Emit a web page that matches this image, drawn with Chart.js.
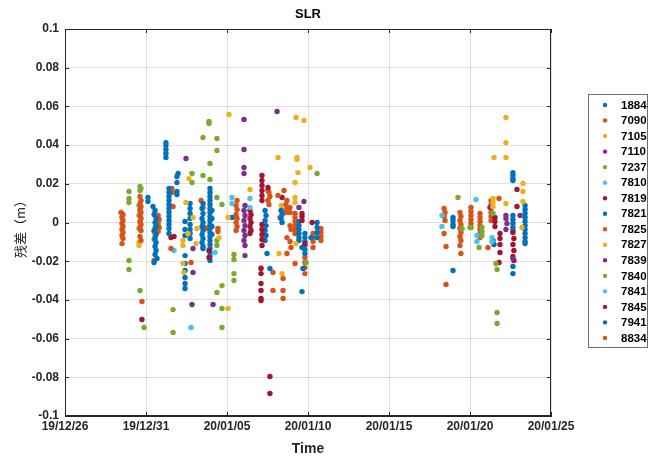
<!DOCTYPE html>
<html><head><meta charset="utf-8">
<script src="https://cdn.jsdelivr.net/npm/chart.js@4"></script>
<style>html,body{margin:0;padding:0;background:#fff;}#wrap{width:650px;height:456px;position:relative;}</style>
</head><body><div id="wrap"><canvas id="c" width="650" height="456"></canvas></div>
<script>
// x = days since 2019-12-26, y = residual (m)
const s1884 = [[5.12,0.0129],[5.12,0.0109],[5.43,0.0083],[5.56,0.0062],[5.50,0.0041],[5.62,0.0021],[5.56,0.0],[5.62,-0.0021],[5.50,-0.0041],[5.62,-0.0062],[5.56,-0.0083],[5.62,-0.0103],[5.56,-0.0124],[5.62,-0.0145],[5.56,-0.0165],[5.68,-0.0186],[5.50,-0.0207],[6.23,0.0413],[6.23,0.0398],[6.23,0.0377],[6.23,0.0357],[6.23,0.0336],[6.42,0.0176],[6.42,0.0155],[6.42,0.0134],[6.42,0.0114],[6.42,0.0093],[6.42,0.0072],[6.42,0.0052],[6.42,0.0031],[6.42,0.001],[6.42,-0.001],[6.42,-0.0031],[6.42,-0.0057],[6.91,0.0238],[6.91,0.0207],[6.91,0.016],[6.91,0.0145],[6.98,0.0253]];
const s7090 = [[3.46,0.0052],[3.58,0.0041],[3.52,0.0026],[3.58,0.001],[3.52,-0.0005],[3.58,-0.0021],[3.52,-0.0036],[3.58,-0.0052],[3.52,-0.0067],[3.58,-0.0083],[3.52,-0.0109],[4.63,0.0134],[4.69,0.0114],[4.63,0.0098],[4.69,0.0083],[4.63,0.0067],[4.69,0.0052],[4.63,0.0036],[4.69,0.0021],[4.63,0.0005],[4.69,-0.001],[4.63,-0.0026],[4.69,-0.0041],[4.63,-0.0072],[4.69,-0.0093],[4.75,-0.0408],[5.75,0.0036],[5.81,0.0016],[5.75,-0.0005],[5.81,-0.0026],[5.75,-0.0047],[5.50,-0.0196],[6.60,0.0176],[6.60,0.0155],[6.67,0.0083],[6.54,-0.0134]];
const s7105 = [[4.57,-0.0103],[4.57,-0.0119],[7.28,-0.0093],[7.28,-0.0119],[7.28,-0.0212],[7.34,-0.0258],[7.47,0.0103],[7.59,-0.0057],[7.65,0.0227],[7.90,0.0026],[8.09,-0.0109],[8.15,-0.0031],[9.51,-0.0078],[10.06,0.0026],[10.06,-0.0444],[10.12,0.0558],[11.42,0.0171]];
const s7110 = [[7.47,0.0331],[7.90,-0.0134],[7.90,-0.0258],[7.84,-0.0424],[9.14,-0.0424],[11.05,0.0532],[11.05,0.0377],[11.05,0.0284],[11.05,0.0253],[11.11,0.0088],[11.05,0.0062],[11.11,0.0036],[11.05,0.001],[11.11,-0.0016],[11.05,-0.0041],[11.11,-0.0067],[11.05,-0.0093],[11.11,-0.0119],[11.11,-0.0171]];
const s7237 = [[3.95,0.016],[3.95,0.0124],[3.95,0.0103],[3.95,-0.0196],[3.95,-0.0243],[4.63,0.0186],[4.69,0.0176],[4.63,0.0165],[4.57,0.0088],[4.63,0.006],[4.57,0.0036],[4.63,0.0],[4.57,-0.0031],[4.63,-0.0351],[4.88,-0.0543],[5.56,-0.0026],[5.50,-0.0047],[5.56,-0.0067],[5.50,-0.0088],[6.67,-0.045],[6.67,-0.0568]];
const s7810 = [[6.73,-0.0145],[7.78,-0.0543],[9.26,-0.0155],[10.31,0.0129],[10.31,0.0098],[11.42,0.0124],[11.42,0.0078]];
const s7819 = [[4.75,-0.0501],[6.54,-0.0078],[6.73,-0.0072],[8.89,-0.0181],[8.89,-0.0145],[11.42,0.0062],[11.48,0.0041],[11.42,0.0021],[11.48,0.0],[11.42,-0.0021],[11.48,-0.0041],[11.42,-0.0057],[12.16,0.0243],[12.16,0.0217],[12.16,0.0191],[12.16,0.0165],[12.16,0.014],[12.16,0.0114],[12.16,-0.001],[12.16,-0.0036],[12.16,-0.0062],[12.16,-0.0088],[12.16,-0.0119],[12.10,-0.0238],[12.10,-0.0264],[12.10,-0.0315],[12.10,-0.0351],[12.10,-0.0393],[12.10,-0.0403],[12.53,0.0181],[12.65,-0.0796],[12.65,-0.0884]];
const s7821 = [[7.41,0.0005],[7.41,-0.0036],[7.41,-0.0067],[7.41,-0.0171],[7.41,-0.0212],[7.41,-0.0248],[7.41,-0.0284],[7.41,-0.0315],[7.41,-0.0341],[7.72,0.0098],[7.72,0.0072],[7.72,0.0047],[7.72,0.0021],[7.72,-0.001],[7.72,-0.0036],[7.72,-0.0057],[7.72,-0.0083],[8.52,0.0098],[8.46,0.0072],[8.52,0.0047],[8.46,0.0021],[8.52,0.0],[8.46,-0.0021],[8.52,-0.0041],[8.46,-0.0062],[8.52,-0.0083],[8.46,-0.0103],[8.52,-0.0124],[8.52,-0.0134],[8.95,0.0176],[8.95,0.0155],[8.95,0.0134],[8.95,0.0114],[8.95,0.0093],[8.95,0.0072],[8.95,0.0052],[8.95,0.0031],[8.95,0.001],[8.95,-0.001],[8.95,-0.0031],[8.95,-0.0052],[8.95,-0.0072],[8.95,-0.0093],[8.95,-0.0114],[8.95,-0.0134],[8.95,-0.0155],[8.95,-0.0176],[8.95,-0.0196],[9.07,0.0062],[9.07,0.0021],[9.07,-0.0021],[9.07,-0.0062],[10.31,0.0026],[12.35,0.0062],[12.41,0.0036],[12.35,0.001],[12.41,-0.0016],[12.35,-0.0041],[12.41,-0.0067],[12.35,-0.0093],[12.47,-0.016],[12.65,-0.0238],[13.34,0.0062],[13.40,0.0041],[13.34,0.0021],[13.40,0.0]];
const s7825 = [[7.78,-0.0207],[8.40,0.0114],[8.52,0.0078],[8.64,-0.0026],[8.77,-0.0031],[9.44,-0.0031],[9.44,-0.0047],[10.62,0.0114],[10.56,0.0088],[10.62,0.0067],[10.56,0.0041],[10.62,0.0021],[10.56,0.0],[10.62,-0.0021],[10.56,-0.0041],[12.53,0.0165],[12.53,0.0114],[12.59,0.0155],[12.65,0.0134],[12.59,0.0093],[12.84,-0.0258],[12.84,-0.0351],[13.15,0.014],[13.27,0.0026],[13.46,-0.0289],[13.46,-0.0351],[13.46,-0.0393],[13.52,0.0165],[13.70,0.0114],[13.64,0.0093],[13.70,0.0072],[13.64,0.0052],[13.70,-0.0078],[13.70,-0.016],[13.89,0.0078],[13.89,0.0052],[13.89,-0.0016],[13.95,-0.0036],[13.89,-0.0098],[13.95,-0.0129]];
const s7827 = [[12.10,-0.0233],[12.28,-0.0093],[13.15,0.0336],[13.21,-0.016],[13.40,-0.0264],[13.34,0.0088],[13.40,0.0067],[14.20,0.0207],[14.20,0.0129],[14.20,0.0103],[14.26,0.0543],[14.26,-0.0109],[14.32,0.0336],[14.32,0.0326],[14.38,0.0258],[14.75,0.0527],[15.12,0.0284],[26.42,0.0124],[26.42,0.0103],[26.42,0.0083],[26.48,0.0336],[27.22,0.0543],[27.22,0.0413],[27.22,0.0336],[27.22,0.0098],[28.27,0.0202],[28.27,0.016],[28.27,0.0109],[28.21,-0.0026]];
const s7839 = [[13.09,0.0574],[14.44,0.0078],[14.75,0.0109],[26.23,0.0078],[27.22,0.0036],[27.22,0.0021],[27.28,-0.0005],[27.22,-0.0036],[27.65,-0.0186],[28.09,0.0036]];
const s7840 = [[7.84,0.0253],[7.84,0.0207],[8.52,0.0439],[8.52,0.0243],[8.89,0.0522],[8.89,0.0512],[8.95,0.0305],[8.95,0.0222],[9.38,0.0434],[9.38,0.0372],[9.38,0.0129],[9.38,-0.0093],[9.38,-0.0119],[9.38,-0.0362],[9.69,0.0093],[9.69,-0.0326],[9.69,-0.0444],[9.69,-0.0543],[10.43,-0.0165],[10.43,-0.0191],[10.43,-0.0264],[10.43,-0.03],[14.88,-0.0207],[15.56,0.0253],[24.26,0.0129],[24.51,-0.0031],[25.0,-0.0026],[25.74,-0.0026],[25.74,-0.0047],[25.74,-0.0067],[25.56,-0.0129],[26.42,0.0047],[26.60,-0.0212],[26.67,-0.0243],[26.67,-0.0465],[26.67,-0.0522]];
const s7841 = [[23.27,0.0036],[23.27,-0.0021],[25.37,0.0119],[25.43,-0.0067],[25.43,-0.0098],[26.36,-0.0078],[26.36,-0.0098]];
const s7845 = [[13.40,0.0129],[14.63,0.0047],[14.63,0.0031],[14.63,0.001],[14.81,-0.0109],[15.25,0.0],[26.54,0.0026],[26.54,0.0005],[26.54,-0.0021],[26.85,-0.0057],[26.85,-0.0083],[26.85,-0.0114],[26.85,-0.0155],[26.79,-0.0207],[27.90,0.0171],[27.90,0.0083],[27.65,-0.0052],[27.71,-0.0083],[27.65,-0.0114],[27.71,-0.0145],[27.65,-0.0176],[27.71,-0.0196]];
const s7941 = [[14.44,0.0005],[14.44,-0.0016],[14.44,-0.0036],[14.44,-0.0057],[14.44,-0.0078],[14.44,-0.0093],[14.63,-0.0129],[14.69,-0.0238],[14.63,-0.0357],[14.81,-0.0057],[14.81,-0.0078],[14.81,-0.0098],[14.81,-0.0119],[14.81,-0.014],[14.81,-0.016],[15.19,-0.0078],[15.56,0.0],[15.56,-0.0026],[15.56,-0.0052],[15.56,-0.0078],[23.95,0.0026],[23.95,0.001],[23.95,-0.001],[23.95,-0.0021],[23.95,-0.0248],[27.65,0.0258],[27.65,0.0243],[27.65,0.0227],[27.65,0.0217],[27.65,0.0036],[27.65,0.0016],[27.65,-0.0005],[27.65,-0.0026],[27.65,-0.0041],[27.65,-0.0227],[27.65,-0.0264],[28.40,0.0088],[28.40,0.0067],[28.40,0.0047],[28.40,0.0026],[28.40,0.0005],[28.40,-0.0016],[28.40,-0.0036],[28.40,-0.0057],[28.40,-0.0078],[28.40,-0.0098],[28.40,-0.0109],[26.42,-0.0093],[26.48,-0.0114]];
const s8834 = [[14.20,0.0047],[14.20,0.0026],[14.20,0.0005],[14.20,-0.0016],[14.20,-0.0036],[14.20,-0.0057],[14.20,-0.0212],[14.81,-0.0181],[14.81,-0.0207],[14.81,-0.0233],[14.81,-0.0264],[15.31,-0.0057],[15.31,-0.0078],[15.31,-0.0098],[15.31,-0.0129],[15.80,-0.0031],[15.80,-0.0052],[15.80,-0.0072],[15.80,-0.0093],[23.40,0.0072],[23.46,0.0052],[23.40,0.0031],[23.46,0.001],[23.40,-0.0057],[23.52,-0.0124],[23.52,-0.032],[24.38,0.0052],[24.44,0.0031],[24.38,0.001],[24.44,-0.001],[24.38,-0.0031],[24.44,-0.0052],[24.38,-0.0072],[24.44,-0.0093],[24.38,-0.0119],[24.44,-0.016],[25.06,0.0078],[25.06,0.0057],[25.06,0.0036],[25.06,0.0016],[25.06,-0.0005],[25.06,-0.0026],[25.62,0.0047],[25.62,0.0026],[25.62,0.0005],[25.62,-0.0016],[25.62,-0.0036],[25.62,-0.0057],[25.62,-0.0078],[26.11,-0.0129],[26.30,0.0114],[26.30,0.0093],[26.30,0.0072],[26.30,0.0052],[26.30,0.0031],[26.30,0.001],[26.79,0.0124]];

const stations = ['1884','7090','7105','7110','7237','7810','7819','7821','7825','7827','7839','7840','7841','7845','7941','8834'];
const seriesData = [s1884,s7090,s7105,s7110,s7237,s7810,s7819,s7821,s7825,s7827,s7839,s7840,s7841,s7845,s7941,s8834];
const palette = ['#0072BD','#D95319','#EDB120','#7E2F8E','#77AC30','#4DBEEE','#A2142F'];
const xTicks = [0,5,10,15,20,25,30];
const xTickLabels = ['19/12/26','19/12/31','20/01/05','20/01/10','20/01/15','20/01/20','20/01/25'];
const yTicks = [-0.1,-0.08,-0.06,-0.04,-0.02,0,0.02,0.04,0.06,0.08,0.1];
const yTickLabels = ['-0.1','-0.08','-0.06','-0.04','-0.02','0','0.02','0.04','0.06','0.08','0.1'];
const titleText = 'SLR';
const xTitle = 'Time';
const yTitle = '残差（m）';

const FONT = '"Liberation Sans", Arial, sans-serif';
const AX = '#262626';

const datasets = seriesData.map((arr, i) => ({
  label: stations[i],
  data: arr.map(p => ({x: p[0], y: p[1]})),
  backgroundColor: palette[i % 7],
  borderColor: palette[i % 7],
  borderWidth: 0,
  pointRadius: 2.7,
  pointHoverRadius: 2.7,
  showLine: false
}));

const decor = {
  id: 'decor',
  afterDraw(chart) {
    const ctx = chart.ctx, a = chart.chartArea;
    const xs = chart.scales.x, ys = chart.scales.y;
    ctx.save();
    ctx.strokeStyle = AX; ctx.lineWidth = 1;
    ctx.strokeRect(Math.round(a.left) + 0.5, Math.round(a.top) + 0.5, Math.round(a.right - a.left) - 1, Math.round(a.bottom - a.top) - 1);
    ctx.beginPath();
    const tl = 4;
    xTicks.forEach(v => {
      const px = Math.round(xs.getPixelForValue(v)) + 0.5;
      ctx.moveTo(px, a.bottom); ctx.lineTo(px, a.bottom - tl);
      ctx.moveTo(px, a.top); ctx.lineTo(px, a.top + tl);
    });
    yTicks.forEach(v => {
      const py = Math.round(ys.getPixelForValue(v)) + 0.5;
      ctx.moveTo(a.left, py); ctx.lineTo(a.left + tl, py);
      ctx.moveTo(a.right, py); ctx.lineTo(a.right - tl, py);
    });
    ctx.stroke();
    ctx.fillStyle = '#000';
    ctx.textAlign = 'center'; ctx.textBaseline = 'middle';
    ctx.font = 'bold 13px ' + FONT;
    ctx.fillText(titleText, (a.left + a.right) / 2, 14);
    ctx.fillStyle = AX;
    ctx.font = 'bold 14px ' + FONT;
    ctx.fillText(xTitle, (a.left + a.right) / 2, 449);
    ctx.save();
    ctx.translate(20, 226);
    ctx.rotate(-Math.PI / 2);
    ctx.font = '13px "Noto Sans CJK SC", sans-serif';
    ctx.fillText(yTitle, 0, 0);
    ctx.restore();
    const lx = 588.5, ly = 94.5, lw = 59, lh = 253;
    ctx.fillStyle = '#fff';
    ctx.fillRect(lx, ly, lw, lh);
    ctx.strokeStyle = '#6e6e6e';
    ctx.strokeRect(lx, ly, lw, lh);
    ctx.font = 'bold 11.5px ' + FONT;
    ctx.textAlign = 'left';
    stations.forEach((s, i) => {
      const y = 105 + i * 15.53;
      ctx.fillStyle = palette[i % 7];
      ctx.beginPath(); ctx.arc(605, y, 2.2, 0, Math.PI * 2); ctx.fill();
      ctx.fillStyle = '#000';
      ctx.fillText(s, 621, y + 0.5);
    });
    ctx.restore();
  }
};

new Chart(document.getElementById('c'), {
  type: 'scatter',
  data: { datasets },
  options: {
    responsive: false,
    devicePixelRatio: 1,
    animation: false,
    layout: { padding: { left: 0, top: 29, right: 99, bottom: 0 } },
    plugins: { legend: { display: false }, tooltip: { enabled: false }, title: { display: false } },
    scales: {
      x: {
        type: 'linear', min: 0, max: 30,
        afterBuildTicks: s => { s.ticks = xTicks.map(v => ({ value: v })); },
        afterFit: s => { s.height = 40; },
        ticks: {
          autoSkip: false, maxRotation: 0, padding: 3, color: AX,
          font: { family: FONT, size: 12, weight: 'bold' },
          callback: v => xTickLabels[xTicks.indexOf(v)]
        },
        grid: { color: 'rgba(0,0,0,0.12)', drawTicks: false },
        border: { display: true, color: AX }
      },
      y: {
        type: 'linear', min: -0.1, max: 0.1,
        afterBuildTicks: s => { s.ticks = yTicks.map(v => ({ value: v })); },
        afterFit: s => { s.width = 65; },
        ticks: {
          autoSkip: false, padding: 6, color: AX,
          font: { family: FONT, size: 12, weight: 'bold' },
          callback: v => { const i = yTicks.findIndex(t => Math.abs(t - v) < 1e-9); return i >= 0 ? yTickLabels[i] : ''; }
        },
        grid: { color: 'rgba(0,0,0,0.12)', drawTicks: false },
        border: { display: true, color: AX }
      }
    }
  },
  plugins: [decor]
});
</script>
</body></html>
